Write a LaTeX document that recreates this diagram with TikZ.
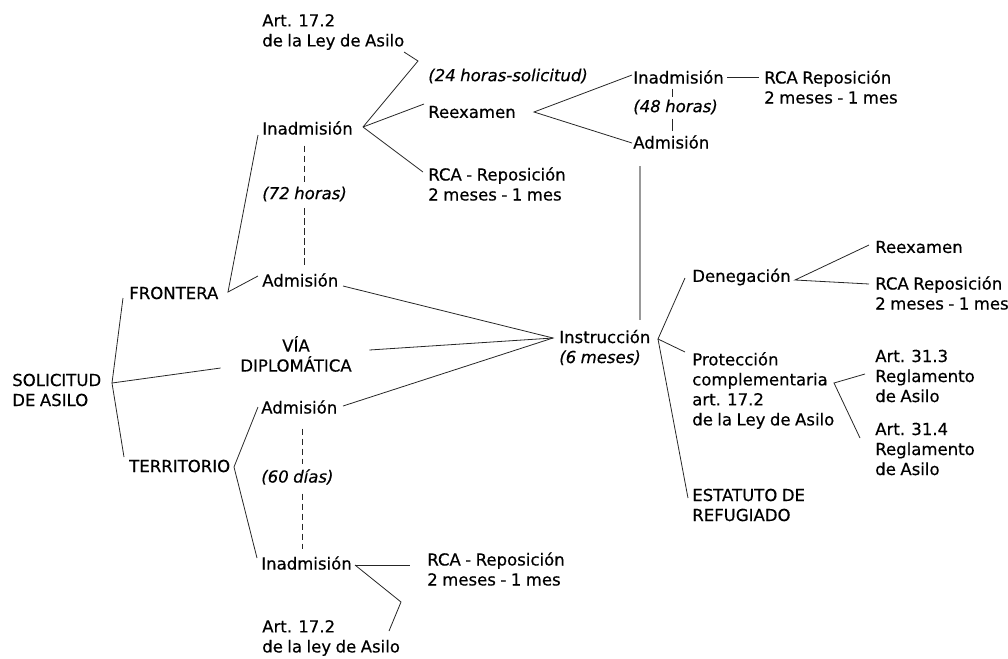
\documentclass[tikz,border=0pt]{standalone}
\usepackage{fontspec}
\setmainfont{DejaVu Sans}[FakeBold=0.4,WordSpace=0.85]

\begin{document}
\begin{tikzpicture}[x=0.75pt,y=-0.75pt,
    txt/.style={
      anchor=west,
      inner sep=0pt,
      align=left,
      font=\fontsize{12.4}{15}\selectfont
    },
    plazo/.style={txt, font=\fontsize{12.4}{15}\selectfont\itshape},
    link/.style={draw=black!85, line width=0.6pt},
    wait/.style={link, dash pattern=on 5pt off 2.5pt},
    graylink/.style={draw=black!40, line width=1.1pt}
    ]
    \useasboundingbox (0,0) rectangle (1008,658);
    % solicitud y vias
    \node[txt] (sol) at (12,390) {SOLICITUD\\DE ASILO};
    \node[txt] (front) at (129,293) {FRONTERA};
    \node[txt,anchor=center,align=center] (via) at (296,354) {VÍA\\DIPLOMÁTICA};
    \node[txt] (terr) at (129,466) {TERRITORIO};
    % frontera
    \node[txt] (artF) at (262,32) {Art. 17.2\\de la Ley de Asilo};
    \node[txt] (inadF) at (262,128) {Inadmisión};
    \node[plazo] (h72) at (262,194) {(72 horas)};
    \node[txt] (admF) at (262,280) {Admisión};
    \node[plazo] (h24) at (428,76) {(24 horas-solicitud)};
    \node[txt] (reex) at (428,112) {Reexamen};
    \node[txt] (rcaF) at (428,184) {RCA - Reposición\\2 meses - 1 mes};
    \node[txt] (inadR) at (633,77) {Inadmisión};
    \node[plazo] (h48) at (633,107) {(48 horas)};
    \node[txt] (admR) at (633,142) {Admisión};
    \node[txt] (rcaR) at (764,87) {RCA Reposición\\2 meses - 1 mes};
    % territorio
    \node[txt] (admT) at (261,407) {Admisión};
    \node[plazo] (h60) at (261,477) {(60 días)};
    \node[txt] (inadT) at (261,563) {Inadmisión};
    \node[txt] (rcaT) at (427,569) {RCA - Reposición\\2 meses - 1 mes};
    \node[txt] (artT) at (262,638) {Art. 17.2\\de la ley de Asilo};
    % instruccion
    \node[txt] (instr) at (559,347.5) {Instrucción\\\textit{(6 meses)}};
    \node[txt] (deneg) at (692,277) {Denegación};
    \node[txt] (prot) at (692,390.5) {Protección\\complementaria\\art. 17.2\\de la Ley de Asilo};
    \node[txt] (estat) at (692,505) {ESTATUTO DE\\REFUGIADO};
    \node[txt] (reexD) at (875,247) {Reexamen};
    \node[txt] (rcaD) at (875,293) {RCA Reposición\\2 meses - 1 mes};
    \node[txt] (art313) at (875,376) {Art. 31.3\\Reglamento\\de Asilo};
    \node[txt] (art314) at (875,449) {Art. 31.4\\Reglamento\\de Asilo};

    % vertices
    \coordinate (solv) at ([shift={(100,-7)}]sol.west);
    \coordinate (frontv) at ([shift={(99,-1)}]front.west);
    \coordinate (inadFv) at ([shift={(101,-1)}]inadF.west);
    \coordinate (reexv) at ([shift={(106,0)}]reex.west);
    \coordinate (terrv) at ([shift={(105,1)}]terr.west);
    \coordinate (inadTv) at ([shift={(94,2)}]inadT.west);
    \coordinate (instrin) at ([shift={(-6,-9.5)}]instr.west);
    \coordinate (instrv) at ([shift={(99,-8.5)}]instr.west);
    \coordinate (denegv) at ([shift={(103,3)}]deneg.west);
    \coordinate (protv) at ([shift={(142,-7.5)}]prot.west);

    \draw[link] ([shift={(-6,5)}]front.west) -- (solv) -- ([shift={(-5,-9)}]terr.west);
    \draw[link] (solv) -- ([shift={(-19.5,14)}]via.west);
    \draw[link] ([shift={(-4,7)}]inadF.west) -- (frontv) -- ([shift={(-4,-4)}]admF.west);
    \draw[link] ([shift={(-3,0)}]admT.west) -- (terrv) -- ([shift={(-4,-5)}]inadT.west);
    \draw[link] (inadFv) -- ([shift={(156,29)}]artF.west) -- ([shift={(142,20)}]artF.west);
    \draw[link] (inadFv) -- ([shift={(-4,-8)}]reex.west);
    \draw[link] (inadFv) -- ([shift={(-5,-12)}]rcaF.west);
    \draw[link] ([shift={(-1,-2)}]inadR.west) -- (reexv) -- ([shift={(-1,1)}]admR.west);
    \draw[link] ([shift={(94,0)}]inadR.west) -- ([shift={(-5,-10)}]rcaR.west);
    \draw[link] (inadTv) -- ([shift={(-17,-4)}]rcaT.west);
    \draw[link] (inadTv) -- ([shift={(139,-36)}]artT.west) -- ([shift={(127,-7)}]artT.west);
    \draw[link] ([shift={(81,6)}]admF.west) -- (instrin) -- ([shift={(82,-1)}]admT.west);
    \draw[link] ([shift={(17.5,-4)}]via.east) -- (instrin);
    \draw[link] ([shift={(-7,1)}]deneg.west) -- (instrv) -- ([shift={(-7,-38.5)}]prot.west);
    \draw[link] (instrv) -- ([shift={(-4,-7)}]estat.west);
    \draw[link] ([shift={(-6,-2)}]reexD.west) -- (denegv) -- ([shift={(-6,-9)}]rcaD.west);
    \draw[link] ([shift={(-10,-2)}]art313.west) -- (protv) -- ([shift={(-15,-11)}]art314.west);

    % plazos
    \draw[wait] ([yshift=-8pt]h72.north |- inadF.south) -- ([yshift=3.5pt]h72.north);
    \draw[wait] ([yshift=-5pt]h72.south) -- ([yshift=5pt]h72.south |- admF.north);
    \draw[wait] ([shift={(4pt,-11pt)}]h60.north |- admT.south) -- ([shift={(4pt,3.5pt)}]h60.north);
    \draw[wait] ([shift={(4pt,-6.5pt)}]h60.south) -- ([shift={(4pt,5pt)}]h60.south |- inadT.north);
    \draw[link] ([shift={(-2.6pt,-3.4pt)}]h48.north |- inadR.south) -- ([shift={(-2.6pt,2pt)}]h48.north);
    \draw[link] ([shift={(-2.6pt,-3pt)}]h48.south) -- ([shift={(-2.6pt,3pt)}]h48.south |- admR.north);
    \coordinate (gtop) at ([shift={(7,17)}]admR.south west);
    \draw[graylink] (gtop) -- ([yshift=7.5pt]gtop |- instr.north);
  \end{tikzpicture}
\end{document}
